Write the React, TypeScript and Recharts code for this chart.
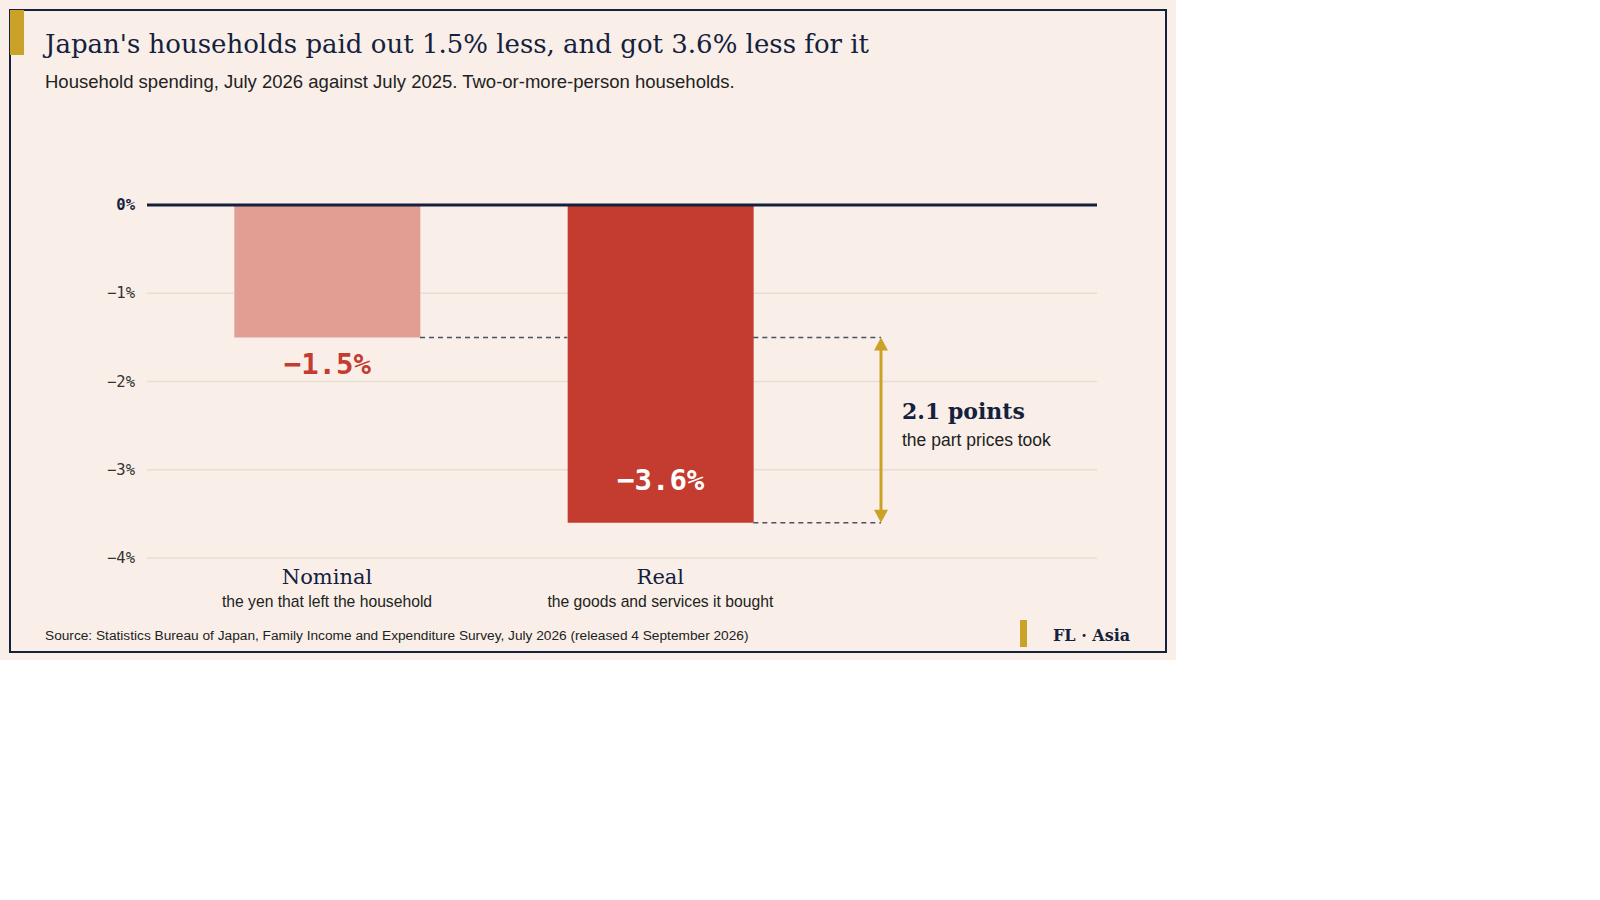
import { BarChart, Bar, XAxis, YAxis, CartesianGrid, ReferenceLine, LabelList, Cell } from "recharts";

const categories = ["Nominal", "Real"];
const changes = [-1.5, -3.6];
const notes = ["the yen that left the household", "the goods and services it bought"];
const yTicks = [0, -1, -2, -3, -4];

const NAVY = "#14213d";
const GOLD = "#c9a227";
const BG = "#f9efe8";
const GRID = "#e8ddd3";
const DASH = "#4a5264";
const BAR_COLORS = ["#e29e93", "#c33c2f"];
const SERIF = "'DejaVu Serif', Georgia, serif";
const SANS = "'Liberation Sans', Arial, sans-serif";
const MONO = "'DejaVu Sans Mono', monospace";

const W = 1176;
const H = 660;
const PLOT_LEFT = 147;
const PLOT_RIGHT = 1097;
const PLOT_TOP = 205;
const PLOT_BOTTOM = 558;
const Y_AXIS_W = 60;
const X_AXIS_H = 60;
const X_DOMAIN: [number, number] = [0.46, 3.31];
const BAR_PX = 186;
const UNIT = (PLOT_RIGHT - PLOT_LEFT) / (X_DOMAIN[1] - X_DOMAIN[0]);
const HALF = BAR_PX / 2 / UNIT;
const ARROW_X = 2.662;

const data = categories.map((name, i) => ({ name, pos: i + 1, value: changes[i] }));
const gap = Math.abs(changes[0] - changes[1]).toFixed(1);

const fmt = (v: number) => (v === 0 ? "0%" : `${v < 0 ? "\u2212" : ""}${Math.abs(v)}%`);

function PercentTick({ x, y, payload }: any) {
  const zero = payload.value === 0;
  return (
    <text
      x={x}
      y={y + 5}
      textAnchor="end"
      fontFamily={MONO}
      fontSize={15.5}
      fontWeight={zero ? 700 : 400}
      fill={zero ? NAVY : "#333"}
    >
      {fmt(payload.value)}
    </text>
  );
}

function CategoryTick({ x, y, payload }: any) {
  const i = payload.value - 1;
  return (
    <g>
      <text x={x} y={y + 26} textAnchor="middle" fontFamily={SERIF} fontSize={21} fill={NAVY}>
        {categories[i]}
      </text>
      <text x={x} y={y + 49} textAnchor="middle" fontFamily={SANS} fontSize={15.7} fill="#222">
        {notes[i]}
      </text>
    </g>
  );
}

function ValueLabel(props: any) {
  const { x, y, width, height, value, index } = props;
  const bottom = Math.max(y, y + height);
  const cx = x + width / 2;
  const inside = index === 1;
  return (
    <text
      x={cx}
      y={inside ? bottom - 33 : bottom + 37}
      textAnchor="middle"
      fontFamily={MONO}
      fontWeight={700}
      fontSize={29}
      fill={inside ? "#fff" : BAR_COLORS[1]}
    >
      {fmt(value)}
    </text>
  );
}

function GapArrow(props: any) {
  const { x1, y1, x2, y2 } = props;
  const top = Math.min(y1, y2);
  const bot = Math.max(y1, y2);
  const mid = (top + bot) / 2;
  return (
    <g>
      <line x1={x1} y1={top + 8} x2={x2} y2={bot - 8} stroke={GOLD} strokeWidth={3} />
      <polygon points={`${x1 - 7},${top + 13} ${x1 + 7},${top + 13} ${x1},${top}`} fill={GOLD} />
      <polygon points={`${x1 - 7},${bot - 13} ${x1 + 7},${bot - 13} ${x1},${bot}`} fill={GOLD} />
      <text x={x1 + 21} y={mid - 11} fontFamily={SERIF} fontWeight={700} fontSize={22} fill={NAVY}>
        {gap} points
      </text>
      <text x={x1 + 21} y={mid + 16} fontFamily={SANS} fontSize={17.5} fill="#222">
        the part prices took
      </text>
    </g>
  );
}

export default function App() {
  return (
    <div style={{ position: "absolute", left: 0, top: 0, width: W, height: H, background: BG }}>
      <div
        style={{
          position: "absolute",
          left: 9,
          top: 9,
          width: 1158,
          height: 644,
          boxSizing: "border-box",
          border: `2px solid ${NAVY}`,
        }}
      />
      <div style={{ position: "absolute", left: 10, top: 10, width: 14, height: 45, background: GOLD }} />
      <div
        style={{
          position: "absolute",
          left: 45,
          top: 26,
          fontFamily: SERIF,
          fontSize: 26,
          lineHeight: "36px",
          color: NAVY,
          whiteSpace: "nowrap",
        }}
      >
        Japan's households paid out 1.5% less, and got 3.6% less for it
      </div>
      <div
        style={{
          position: "absolute",
          left: 45,
          top: 71,
          fontFamily: SANS,
          fontSize: 18.5,
          lineHeight: "22px",
          color: "#222",
          whiteSpace: "nowrap",
        }}
      >
        Household spending, July 2026 against July 2025. Two-or-more-person households.
      </div>

      <div style={{ position: "absolute", left: 0, top: 0 }}>
        <BarChart
          width={W}
          height={H}
          data={data}
          margin={{
            top: PLOT_TOP,
            right: W - PLOT_RIGHT,
            bottom: H - PLOT_BOTTOM - X_AXIS_H,
            left: PLOT_LEFT - Y_AXIS_W,
          }}
        >
          <CartesianGrid vertical={false} stroke={GRID} strokeWidth={1.5} />
          <XAxis
            dataKey="pos"
            type="number"
            domain={X_DOMAIN}
            ticks={[1, 2]}
            axisLine={false}
            tickLine={false}
            tickSize={0}
            tickMargin={0}
            height={X_AXIS_H}
            tick={<CategoryTick />}
            interval={0}
          />
          <YAxis
            type="number"
            domain={[-4, 0]}
            ticks={yTicks}
            width={Y_AXIS_W}
            axisLine={false}
            tickLine={false}
            tickSize={0}
            tickMargin={12}
            tick={<PercentTick />}
            interval={0}
          />
          <ReferenceLine
            segment={[{ x: 1 + HALF, y: changes[0] }, { x: 2 - HALF, y: changes[0] }]}
            stroke={DASH}
            strokeWidth={1.5}
            strokeDasharray="5 4"
          />
          <ReferenceLine
            segment={[{ x: 2 + HALF, y: changes[0] }, { x: ARROW_X, y: changes[0] }]}
            stroke={DASH}
            strokeWidth={1.5}
            strokeDasharray="5 4"
          />
          <ReferenceLine
            segment={[{ x: 2 + HALF, y: changes[1] }, { x: ARROW_X, y: changes[1] }]}
            stroke={DASH}
            strokeWidth={1.5}
            strokeDasharray="5 4"
          />
          <Bar dataKey="value" barSize={BAR_PX} isAnimationActive={false}>
            {data.map((_, i) => (
              <Cell key={i} fill={BAR_COLORS[i]} />
            ))}
            <LabelList dataKey="value" content={<ValueLabel />} />
          </Bar>
          <ReferenceLine y={0} stroke={NAVY} strokeWidth={3} />
          <ReferenceLine
            segment={[{ x: ARROW_X, y: changes[0] }, { x: ARROW_X, y: changes[1] }]}
            shape={(p: any) => <GapArrow {...p} />}
          />
        </BarChart>
      </div>

      <div
        style={{
          position: "absolute",
          left: 45,
          top: 628,
          fontFamily: SANS,
          fontSize: 13.7,
          lineHeight: "16px",
          color: "#222",
          whiteSpace: "nowrap",
        }}
      >
        Source: Statistics Bureau of Japan, Family Income and Expenditure Survey, July 2026 (released 4 September 2026)
      </div>
      <div style={{ position: "absolute", left: 1020, top: 620, width: 7, height: 27, background: GOLD }} />
      <div
        style={{
          position: "absolute",
          left: 1053,
          top: 626,
          fontFamily: SERIF,
          fontSize: 16,
          fontWeight: 700,
          lineHeight: "20px",
          color: NAVY,
          whiteSpace: "nowrap",
        }}
      >
        FL · Asia
      </div>
    </div>
  );
}
